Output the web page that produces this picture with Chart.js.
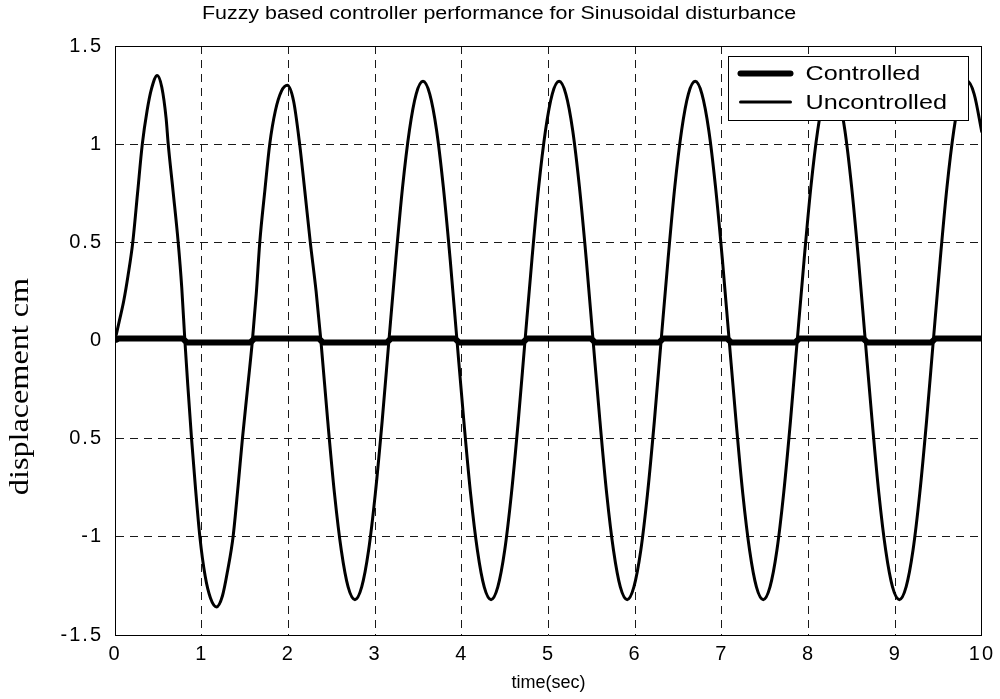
<!DOCTYPE html>
<html>
<head>
<meta charset="utf-8">
<script src="https://cdn.jsdelivr.net/npm/chart.js@4.4.0/dist/chart.umd.min.js"></script>
<style>
  html, body { margin: 0; padding: 0; background: #ffffff; }
  #wrap { width: 1000px; height: 699px; position: relative; }
</style>
</head>
<body>
<div id="wrap"><canvas id="c" width="1000" height="699"></canvas></div>
<script>
// ---------------- data ----------------
const chartTitle = 'Fuzzy based controller performance for Sinusoidal disturbance';
const xAxisTitle = 'time(sec)';
const yAxisTitle = 'displacement cm';
const seriesNames = ['Controlled', 'Uncontrolled'];

const xTickValues = [0, 1, 2, 3, 4, 5, 6, 7, 8, 9, 10];
const xTickLabels = ['0', '1', '2', '3', '4', '5', '6', '7', '8', '9', '10'];
const yTickValues = [-1.5, -1, -0.5, 0, 0.5, 1, 1.5];
const yTickLabels = ['-1.5', '-1', '0.5', '0', '0.5', '1', '1.5'];

// Uncontrolled response
const time = [
  0, 0.05, 0.10, 0.15, 0.205, 0.26, 0.315, 0.37, 0.42, 0.487, 0.54, 0.59, 0.614, 0.67, 0.729, 0.77, 0.806,
  0.84, 0.883, 0.93, 0.979, 1.04, 1.10, 1.171, 1.24, 1.30, 1.362, 1.42, 1.47, 1.53, 1.585,
  1.63, 1.67, 1.73, 1.785, 1.85, 1.92, 1.988, 2.06, 2.13, 2.19, 2.253, 2.32, 2.375,
  2.454, 2.532, 2.611, 2.689, 2.768, 2.846, 2.925, 3.003, 3.082, 3.16,
  3.239, 3.317, 3.396, 3.474, 3.553, 3.631, 3.71, 3.788, 3.867, 3.945,
  4.024, 4.102, 4.181, 4.259, 4.338, 4.416, 4.495, 4.573, 4.652, 4.73,
  4.809, 4.887, 4.966, 5.044, 5.123, 5.201, 5.28, 5.358, 5.437, 5.515,
  5.594, 5.672, 5.751, 5.829, 5.908, 5.986, 6.065, 6.143, 6.222, 6.30,
  6.379, 6.457, 6.536, 6.614, 6.693, 6.771, 6.85, 6.928, 7.007, 7.085,
  7.164, 7.242, 7.321, 7.399, 7.478, 7.556, 7.635, 7.713, 7.792, 7.87,
  7.949, 8.027, 8.106, 8.184, 8.263, 8.341, 8.42, 8.498, 8.577, 8.655,
  8.734, 8.812, 8.891, 8.969, 9.048, 9.126, 9.205, 9.283, 9.362, 9.44,
  9.519, 9.597, 9.676, 9.754, 9.833, 9.911, 10.0
];
const uncontrolled = [
  0, 0.10, 0.20, 0.33, 0.50, 0.75, 1.00, 1.17, 1.28, 1.35, 1.29, 1.13, 1.00, 0.76, 0.50, 0.27, 0,
  -0.23, -0.50, -0.76, -1.00, -1.20, -1.31, -1.357, -1.30, -1.17, -1.00, -0.74, -0.50, -0.24, 0,
  0.24, 0.50, 0.77, 1.00, 1.17, 1.27, 1.30, 1.22, 1.00, 0.76, 0.50, 0.25, 0,
  -0.41, -0.78, -1.07, -1.255, -1.32, -1.255, -1.07, -0.78, -0.41, 0,
  0.41, 0.78, 1.07, 1.255, 1.32, 1.255, 1.07, 0.78, 0.41, 0,
  -0.41, -0.78, -1.07, -1.255, -1.32, -1.255, -1.07, -0.78, -0.41, 0,
  0.41, 0.78, 1.07, 1.255, 1.32, 1.255, 1.07, 0.78, 0.41, 0,
  -0.41, -0.78, -1.07, -1.255, -1.32, -1.255, -1.07, -0.78, -0.41, 0,
  0.41, 0.78, 1.07, 1.255, 1.32, 1.255, 1.07, 0.78, 0.41, 0,
  -0.41, -0.78, -1.07, -1.255, -1.32, -1.255, -1.07, -0.78, -0.41, 0,
  0.41, 0.78, 1.07, 1.255, 1.32, 1.255, 1.07, 0.78, 0.41, 0,
  -0.41, -0.78, -1.07, -1.255, -1.32, -1.255, -1.07, -0.78, -0.41, 0,
  0.41, 0.78, 1.07, 1.255, 1.32, 1.255, 1.06
];

// Controlled response
const controlledTime = [
  0, 0.04, 0.78, 0.83, 1.56, 1.61, 2.35, 2.40, 3.135, 3.185, 3.92, 3.97, 4.705, 4.755,
  5.49, 5.54, 6.275, 6.325, 7.06, 7.11, 7.845, 7.895, 8.63, 8.68, 9.415, 9.465, 10
];
const controlled = [
  0, 0.01, 0.01, -0.01, -0.01, 0.01, 0.01, -0.01, -0.01, 0.01, 0.01, -0.01, -0.01, 0.01,
  0.01, -0.01, -0.01, 0.01, 0.01, -0.01, -0.01, 0.01, 0.01, -0.01, -0.01, 0.01, 0.01
];

// ---------------- chart ----------------
const sans = "'Liberation Sans', Arial, Helvetica, sans-serif";
const serif = "'Liberation Serif', 'Times New Roman', serif";

// The reference text is slightly stretched (printed MATLAB figure)
const textLook = {
  titleStretchX: 1.19,
  titleShiftX: 7.5,
  tickSpacing: '2px',
  yTitleStretch: 1.15,
  yTitleShift: 46,
  legendStretchX: 1.2
};

function wrapOnce(obj, name, before) {
  if (!obj || obj['__w_' + name]) return;
  const orig = obj[name];
  obj[name] = function (...args) {
    const c = this.ctx;
    c.save();
    before.call(this, c);
    try { return orig.apply(this, args); } finally { c.restore(); }
  };
  obj['__w_' + name] = true;
}

const textPlugin = {
  id: 'textLook',
  beforeDraw(chart) {
    wrapOnce(chart.titleBlock, 'draw', function (c) {
      const cx = (this.left + this.right) / 2;
      c.translate(cx + textLook.titleShiftX, 0); c.scale(textLook.titleStretchX, 1); c.translate(-cx, 0);
    });
    wrapOnce(chart.scales.x, 'drawLabels', function (c) { c.letterSpacing = textLook.tickSpacing; });
    wrapOnce(chart.scales.y, 'drawLabels', function (c) { c.letterSpacing = textLook.tickSpacing; });
    wrapOnce(chart.scales.y, 'drawTitle', function (c) {
      const cy = (this.top + this.bottom) / 2;
      c.translate(0, cy + textLook.yTitleShift); c.scale(1, textLook.yTitleStretch); c.translate(0, -cy);
    });
  }
};

const boxLegend = {
  id: 'boxLegend',
  afterDatasetsDraw(chart) {
    const ctx = chart.ctx;
    const a = chart.chartArea;
    const w = 240, h = 64;
    const x = Math.round(a.right - 14 - w) + 0.5;
    const y = Math.round(a.top + 10) + 0.5;
    ctx.save();
    ctx.fillStyle = '#ffffff';
    ctx.fillRect(x, y, w, h);
    ctx.strokeStyle = '#000000';
    ctx.lineWidth = 1;
    ctx.strokeRect(x, y, w, h);
    const rows = [y + 17, y + 45.5];
    chart.data.datasets.forEach((ds, i) => {
      ctx.beginPath();
      ctx.lineWidth = ds.borderWidth;
      ctx.strokeStyle = ds.borderColor;
      ctx.lineCap = 'round';
      ctx.moveTo(x + 12, rows[i]);
      ctx.lineTo(x + 62, rows[i]);
      ctx.stroke();
      ctx.save();
      ctx.fillStyle = '#000000';
      ctx.font = '21px ' + sans;
      ctx.textAlign = 'left';
      ctx.textBaseline = 'middle';
      ctx.translate(x + 77, rows[i] + 1);
      ctx.scale(textLook.legendStretchX, 1);
      ctx.fillText(ds.label, 0, 0);
      ctx.restore();
    });
    ctx.restore();
  }
};

new Chart(document.getElementById('c'), {
  type: 'line',
  data: {
    datasets: [
      {
        label: seriesNames[0],
        data: controlledTime.map((t, i) => ({ x: t, y: controlled[i] })),
        borderColor: '#000000',
        borderWidth: 6,
        pointRadius: 0,
        tension: 0,
        borderJoinStyle: 'round'
      },
      {
        label: seriesNames[1],
        data: time.map((t, i) => ({ x: t, y: uncontrolled[i] })),
        borderColor: '#000000',
        borderWidth: 3,
        pointRadius: 0,
        cubicInterpolationMode: 'monotone',
        borderJoinStyle: 'round'
      }
    ]
  },
  options: {
    responsive: false,
    animation: false,
    devicePixelRatio: 1,
    layout: { padding: { left: 0, right: 17, top: 0, bottom: 0 } },
    plugins: {
      legend: { display: false },
      tooltip: { enabled: false },
      title: {
        display: true,
        text: chartTitle,
        color: '#000000',
        font: { family: sans, size: 18, weight: 'normal' },
        padding: { top: 3, bottom: 21.4 }
      }
    },
    scales: {
      x: {
        type: 'linear',
        position: 'bottom',
        min: 0, max: 10,
        afterBuildTicks: (s) => { s.ticks = xTickValues.map(v => ({ value: v })); },
        afterFit: (s) => { s.height = 64; },
        ticks: {
          color: '#000000',
          font: { family: sans, size: 20 },
          padding: 7,
          maxRotation: 0,
          autoSkip: false,
          callback: (v, i) => xTickLabels[i]
        },
        grid: { color: '#1a1a1a', lineWidth: 1, drawTicks: false },
        border: { display: true, color: '#000000', width: 1, dash: [8, 6] },
        title: {
          display: true,
          text: xAxisTitle,
          color: '#000000',
          font: { family: sans, size: 18 },
          padding: { top: 0, bottom: 5 }
        }
      },
      y: {
        type: 'linear',
        position: 'left',
        min: -1.5, max: 1.5,
        afterBuildTicks: (s) => { s.ticks = yTickValues.map(v => ({ value: v })); },
        afterFit: (s) => { s.width = 115; },
        ticks: {
          color: '#000000',
          font: { family: sans, size: 20 },
          padding: 12,
          autoSkip: false,
          callback: (v, i) => yTickLabels[i]
        },
        grid: { color: '#1a1a1a', lineWidth: 1, drawTicks: false },
        border: { display: true, color: '#000000', width: 1, dash: [8, 6] },
        title: {
          display: true,
          text: yAxisTitle,
          color: '#000000',
          font: { family: serif, size: 28 },
          padding: { top: 4, bottom: 0 }
        }
      },
      x2: {
        type: 'linear',
        position: 'top',
        min: 0, max: 10,
        afterFit: (s) => { s.height = 0; },
        ticks: { display: false },
        grid: { display: false },
        border: { display: true, color: '#000000', width: 1 }
      },
      y2: {
        type: 'linear',
        position: 'right',
        min: -1.5, max: 1.5,
        afterFit: (s) => { s.width = 0; },
        ticks: { display: false },
        grid: { display: false },
        border: { display: true, color: '#000000', width: 1 }
      }
    }
  },
  plugins: [textPlugin, boxLegend]
});
</script>
</body>
</html>
